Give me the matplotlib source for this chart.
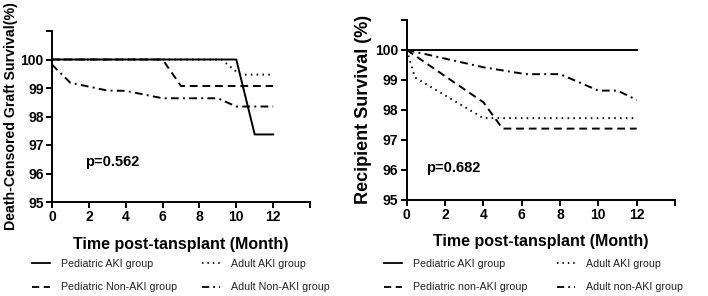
import matplotlib.pyplot as plt
from matplotlib.lines import Line2D

plt.rcParams['font.family'] = ['Liberation Sans', 'DejaVu Sans']

# left panel: death-censored graft survival (%)
g_ped_aki_x = [0, 10, 11, 12]
g_ped_aki_y = [100, 100, 97.37, 97.37]
g_adult_aki_x = [0, 9.2, 10.2, 12]
g_adult_aki_y = [100, 100, 99.47, 99.47]
g_ped_non_x = [0, 6, 7, 12]
g_ped_non_y = [100, 100, 99.07, 99.07]
g_adult_non_x = [0, 1, 2, 3, 4, 6, 9, 10, 12]
g_adult_non_y = [99.82, 99.18, 99.05, 98.91, 98.9, 98.64, 98.64, 98.35, 98.35]

# right panel: recipient survival (%)
r_ped_aki_x = [0, 12]
r_ped_aki_y = [100, 100]
r_adult_aki_x = [0, 0.43, 4, 12]
r_adult_aki_y = [100, 99.08, 97.72, 97.72]
r_ped_non_x = [0, 4, 5, 12]
r_ped_non_y = [100, 98.25, 97.37, 97.37]
r_adult_non_x = [0, 4, 6.2, 8, 10, 11, 12]
r_adult_non_y = [100, 99.42, 99.19, 99.19, 98.64, 98.64, 98.33]

p_left = "p=0.562"
p_right = "p=0.682"
left_names = ["Pediatric AKI group", "Pediatric Non-AKI group", "Adult AKI group", "Adult Non-AKI group"]
right_names = ["Pediatric AKI group", "Pediatric non-AKI group", "Adult AKI group", "Adult non-AKI group"]

styles = [
    dict(linestyle='-'),
    dict(linestyle=(0, (4, 2.5))),
    dict(linestyle=(0, (0.8, 2.2))),
    dict(linestyle=(0, (4, 2.2, 1, 2.2))),
]

fig = plt.figure(figsize=(7.08, 2.96), dpi=100)
W, H = 708, 296


def make_axes(x0, x1, ytop, ybot):
    return fig.add_axes([x0 / W, (H - ybot) / H, (x1 - x0) / W, (ybot - ytop) / H])


def style_axes(ax, ylabel, ysize, ptext, px, py):
    ax.set_xlim(0, 14)
    ax.set_ylim(95, 101)
    ax.set_xticks(range(0, 15, 2))
    ax.set_xticklabels([str(v) for v in range(0, 13, 2)] + [""])
    ax.set_yticks(range(95, 102))
    ax.set_yticklabels([str(v) for v in range(95, 101)] + [""])
    for s in ['top', 'right']:
        ax.spines[s].set_visible(False)
    for s in ['left', 'bottom']:
        ax.spines[s].set_linewidth(1.4)
    ax.tick_params(width=1.4, length=4, labelsize=10, pad=2)
    for lab in ax.get_xticklabels() + ax.get_yticklabels():
        lab.set_fontweight('bold')
    ax.set_xlabel("Time post-tansplant (Month)", fontsize=11.5, fontweight='bold', labelpad=9)
    ax.set_ylabel(ylabel, fontsize=ysize, fontweight='bold', labelpad=2)
    ax.text(px, py, ptext, fontsize=10.5, fontweight='bold', va='center')


axL = make_axes(52, 310, 31, 202)
series_l = [(g_ped_aki_x, g_ped_aki_y), (g_ped_non_x, g_ped_non_y),
            (g_adult_aki_x, g_adult_aki_y), (g_adult_non_x, g_adult_non_y)]
for (x, y), st in zip(series_l, styles):
    axL.plot(x, y, color='black', lw=1.4, **st)
style_axes(axL, "Death-Censored Graft Survival(%)", 10.2, p_left, 1.8, 96.42)

axR = make_axes(406.7, 675, 20, 199.5)
series_r = [(r_ped_aki_x, r_ped_aki_y), (r_ped_non_x, r_ped_non_y),
            (r_adult_aki_x, r_adult_aki_y), (r_adult_non_x, r_adult_non_y)]
for (x, y), st in zip(series_r, styles):
    axR.plot(x, y, color='black', lw=1.4, **st)
style_axes(axR, "Recipient Survival (%)", 13, p_right, 1.0, 96.06)

handles = [Line2D([], [], color='black', lw=1.3, **st) for st in styles]
columns = [(left_names[:2], handles[:2], 32), (left_names[2:], handles[2:], 202),
           (right_names[:2], handles[:2], 384), (right_names[2:], handles[2:], 557)]
for names, hs, x0 in columns:
    leg = fig.legend(hs, names, loc='upper left', bbox_to_anchor=(x0 / W, 1 - 259 / H),
                     frameon=False, fontsize=7.7, handlelength=1.7, handletextpad=1.0,
                     labelspacing=1.25, borderaxespad=0, borderpad=0)
    for t in leg.get_texts():
        t.set_color('#222222')

fig.savefig("out.png", dpi=100)
